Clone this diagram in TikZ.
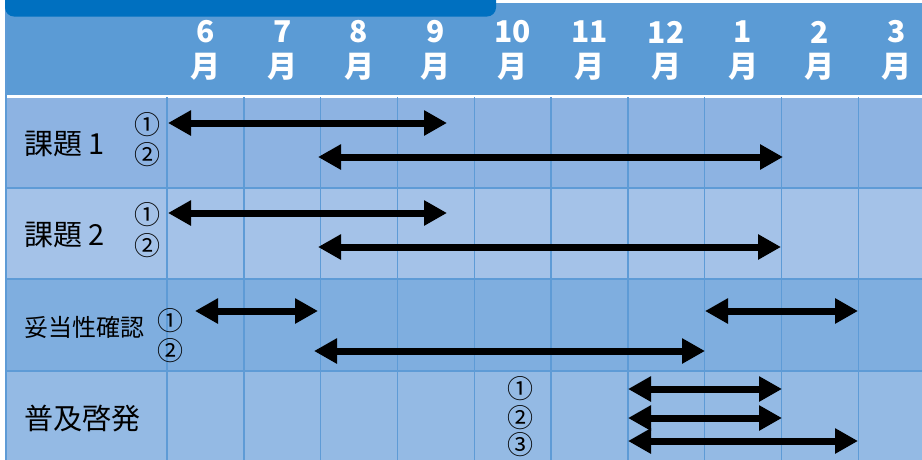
\documentclass[tikz,border=0pt]{standalone}
\usepackage{fontspec}
\newfontfamily\jp{Noto Sans CJK JP}
\usetikzlibrary{arrows.meta}
\definecolor{titleblue}{HTML}{0070C0}
\definecolor{headblue}{HTML}{5B9BD5}
\definecolor{rowA}{HTML}{8DB3E2}
\definecolor{rowB}{HTML}{A4C2E8}
\definecolor{rowC}{HTML}{7FAEDF}
\definecolor{rowD}{HTML}{94BAE4}
\definecolor{gridc}{HTML}{5E9BD6}
\tikzset{
  bar/.style={line width=7pt,{Triangle[length=23pt,width=24pt]}-{Triangle[length=23pt,width=24pt]}},
  hd/.style={text=white,font=\jp\bfseries\fontsize{30}{34}\selectfont,inner sep=0pt},
  lab/.style={font=\jp\fontsize{29}{32}\selectfont,anchor=west,inner sep=0pt},
  labs/.style={font=\jp\fontsize{24}{26}\selectfont,anchor=west,inner sep=0pt},
  num/.style={font=\jp\fontsize{26}{28}\selectfont,inner sep=0pt},
}
\begin{document}
\begin{tikzpicture}[x=1pt,y=-1pt]
\useasboundingbox (0,0) rectangle (922,459);
\fill[white] (0,0) rectangle (922,459);
% rows
\fill[headblue] (6,3) rectangle (930,95);
\fill[rowA] (6,97) rectangle (930,188);
\fill[rowB] (6,188) rectangle (930,279);
\fill[rowC] (6,279) rectangle (930,371);
\fill[rowD] (6,371) rectangle (930,462);
\fill[white] (6,95) rectangle (930,97.5);
% grid
\foreach \k in {0,...,9} {
  \draw[gridc,line width=1.4pt] ({167+76.8*\k},97) -- ({167+76.8*\k},462);
}
\foreach \y in {188,279,371} {
  \draw[gridc,line width=1.4pt] (6,\y) -- (930,\y);
}
\draw[gridc,line width=1.4pt] (6,3) -- (6,462);
% title bar
\fill[titleblue,rounded corners=9pt] (5,-20) rectangle (496,16.5);
% header
\foreach \m [count=\i from 0] in {6,7,8,9,10,11,12,1,2,3} {
  \node[hd] (m\i) at ({205.4+76.8*\i},32) {\m};
  \node[hd] (g\i) at ({205.4+76.8*\i},67) {月};
}
% row labels
\node[lab] (r1) at (24,144) {課題 1};
\node[lab] (r2) at (24,235) {課題 2};
\node[labs] (r3) at (24,327) {妥当性確認};
\node[lab] (r4) at (24,419) {普及啓発};
% numbers
\node[num] (n11) at (147,125) {①};
\node[num] (n12) at (147,155) {②};
\node[num] (n21) at (147,215) {①};
\node[num] (n22) at (147,246) {②};
\node[num] (n31) at (170,321) {①};
\node[num] (n32) at (170,351) {②};
\node[num] (n41) at (520,389) {①};
\node[num] (n42) at (520,418) {②};
\node[num] (n43) at (520,445) {③};
% bar endpoints
\coordinate (a1s) at (168,123); \coordinate (a1e) at (447,123);
\coordinate (a2s) at (318,157); \coordinate (a2e) at (783,157);
\coordinate (b1s) at (168,213); \coordinate (b1e) at (447,213);
\coordinate (b2s) at (318,247); \coordinate (b2e) at (781,247);
\coordinate (c1s) at (195,311); \coordinate (c1e) at (318,311);
\coordinate (c3s) at (705,311); \coordinate (c3e) at (858,311);
\coordinate (c2s) at (314,351); \coordinate (c2e) at (705,351);
\coordinate (d1s) at (628,389); \coordinate (d1e) at (782,389);
\coordinate (d2s) at (628,418); \coordinate (d2e) at (782,418);
\coordinate (d3s) at (628,441); \coordinate (d3e) at (858,441);
\foreach \p in {a1,a2,b1,b2,c1,c2,c3,d1,d2,d3} {
  \draw[bar] (\p s) -- (\p e);
}
\end{tikzpicture}
\end{document}
